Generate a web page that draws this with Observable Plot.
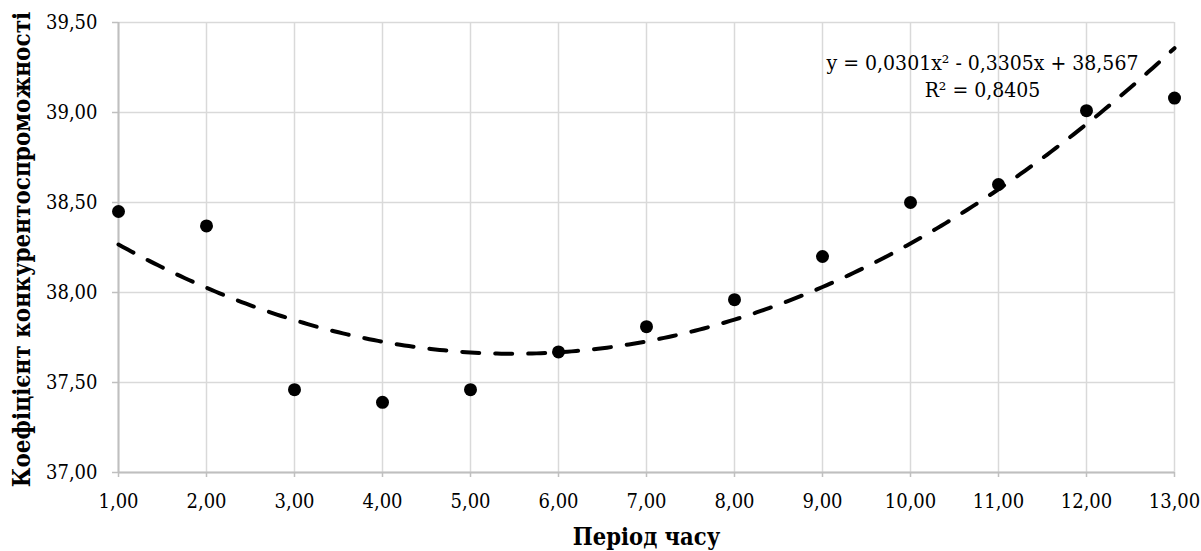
<!DOCTYPE html>
<html>
<head>
<meta charset="utf-8">
<script src="https://cdn.jsdelivr.net/npm/d3@7"></script>
<script src="https://cdn.jsdelivr.net/npm/@observablehq/plot@0.6"></script>
<style>
  html, body { margin: 0; padding: 0; background: #fff; overflow: hidden; }
</style>
</head>
<body>
<div id="chart"></div>
<script>
// Data
const periods = [1, 2, 3, 4, 5, 6, 7, 8, 9, 10, 11, 12, 13];
const values = [38.45, 38.37, 37.46, 37.39, 37.46, 37.67, 37.81, 37.96, 38.20, 38.50, 38.60, 39.01, 39.08];

// Polynomial trendline (order 2) as printed on the chart: y = a x² + b x + c
const trendCoefficients = [0.0301, -0.3305, 38.567];
const trendEquation = "y = 0,0301x² - 0,3305x + 38,567";
const trendR2 = "R² = 0,8405";

const xTicks = [1, 2, 3, 4, 5, 6, 7, 8, 9, 10, 11, 12, 13];
const xTickLabels = ["1,00", "2,00", "3,00", "4,00", "5,00", "6,00", "7,00", "8,00", "9,00", "10,00", "11,00", "12,00", "13,00"];
const yTicks = [37, 37.5, 38, 38.5, 39, 39.5];
const yTickLabels = ["37,00", "37,50", "38,00", "38,50", "39,00", "39,50"];

const xTitle = "Період часу";
const yTitle = "Коефіцієнт конкурентоспроможності";

const points = periods.map((p, i) => ({x: p, y: values[i]}));

// trendline sampled across the period range
const [a, b, c] = trendCoefficients;
const xMin = d3.min(periods), xMax = d3.max(periods);
const trend = d3.range(0, 241).map(i => {
  const x = xMin + (xMax - xMin) * i / 240;
  return {x, y: a * x * x + b * x + c};
});

const grid = "#d9d9d9";
const axisColor = "#bfbfbf";
const serif = "'DejaVu Serif Condensed', 'DejaVu Serif', serif";

const chart = Plot.plot({
  width: 1201,
  height: 551,
  marginLeft: 118,
  marginRight: 27,
  marginTop: 22,
  marginBottom: 79,
  style: {fontFamily: serif, fontSize: "20px", color: "#000", background: "#fff"},
  x: {domain: [xMin, xMax]},
  y: {domain: [d3.min(yTicks), d3.max(yTicks)]},
  marks: [
    Plot.gridX(xTicks, {stroke: grid, strokeOpacity: 1, strokeWidth: 1.5}),
    Plot.gridY(yTicks, {stroke: grid, strokeOpacity: 1, strokeWidth: 1.5}),
    Plot.ruleY([d3.min(yTicks)], {stroke: axisColor, strokeWidth: 2}),
    Plot.ruleX([xMin], {stroke: axisColor, strokeWidth: 2}),
    Plot.axisX({
      ticks: xTicks,
      tickSize: 5,
      tickPadding: 16,
      stroke: axisColor,
      strokeWidth: 1.5,
      tickFormat: d => xTickLabels[xTicks.indexOf(d)],
      label: null
    }),
    Plot.axisY({
      ticks: yTicks,
      tickSize: 6,
      tickPadding: 15,
      stroke: axisColor,
      strokeWidth: 1.5,
      tickFormat: d => yTickLabels[yTicks.indexOf(d)],
      label: null
    }),
    Plot.line(trend, {x: "x", y: "y", stroke: "#000", strokeWidth: 4, strokeDasharray: "17,16"}),
    Plot.dot(points, {x: "x", y: "y", r: 6.5, fill: "#000"}),
    Plot.text([trendEquation + "\n" + trendR2], {
      frameAnchor: "top-right",
      textAnchor: "middle",
      lineAnchor: "top",
      lineHeight: 1.29,
      dx: -192,
      dy: 28,
      fontSize: 21,
      fill: "#000"
    }),
    Plot.text([xTitle], {
      frameAnchor: "bottom",
      lineAnchor: "bottom",
      dy: 72,
      fontSize: 23.5,
      fontWeight: "bold",
      fill: "#000"
    }),
    Plot.text([yTitle], {
      frameAnchor: "left",
      textAnchor: "middle",
      rotate: -90,
      lineAnchor: "middle",
      dx: -96,
      dy: 2,
      fontSize: 24,
      fontWeight: "bold",
      fill: "#000"
    })
  ]
});

document.getElementById("chart").appendChild(chart);
</script>
</body>
</html>
